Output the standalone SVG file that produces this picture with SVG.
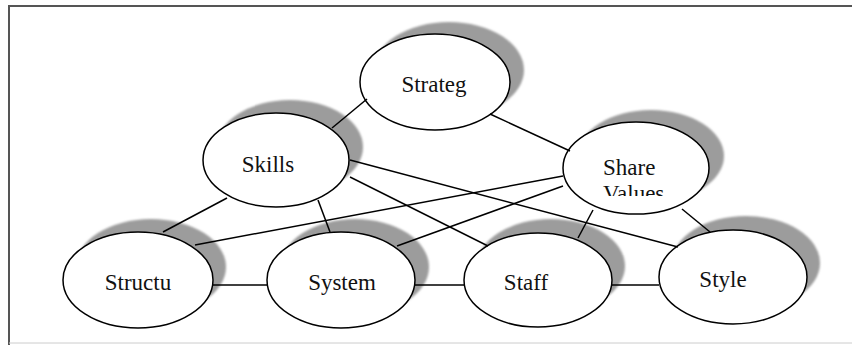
<svg xmlns="http://www.w3.org/2000/svg" width="852" height="345" viewBox="0 0 852 345">
<style>
.sh{fill:#9c9c9c;filter:url(#blur)}
.el{fill:#fff;stroke:#000;stroke-width:1.5}
.lb{font-family:"Liberation Serif","Times New Roman",serif;font-size:23px;fill:#111}
.cn line{stroke:#000;stroke-width:1.5}
</style>
<defs>
<filter id="blur" x="-10%" y="-10%" width="120%" height="120%"><feGaussianBlur stdDeviation="0.8"/></filter>
<clipPath id="svclip"><rect x="560" y="120" width="150" height="76"/></clipPath>
</defs>
<rect x="0" y="0" width="852" height="345" fill="#fff"/>
<g id="frame">
<line x1="8" y1="6" x2="852" y2="6" stroke="#555" stroke-width="2"/>
<line x1="9" y1="5" x2="9" y2="345" stroke="#555" stroke-width="2"/>
<line x1="9" y1="343" x2="852" y2="343" stroke="#ccc" stroke-width="1"/>
</g>
<g id="node-strategy">
<ellipse class="sh" cx="449" cy="70" rx="75" ry="48"/>
<ellipse class="el" cx="435" cy="82" rx="75" ry="48"/>
<text class="lb" x="434" y="92" text-anchor="middle">Strateg</text>
</g>
<g id="node-skills">
<ellipse class="sh" cx="290" cy="147" rx="73" ry="47"/>
<ellipse class="el" cx="276" cy="160" rx="73" ry="47"/>
<text class="lb" x="268" y="172" text-anchor="middle">Skills</text>
</g>
<g id="node-shared-values">
<ellipse class="sh" cx="651" cy="156" rx="73" ry="46"/>
<ellipse class="el" cx="636" cy="168" rx="73" ry="46"/>
<text class="lb" x="603" y="175">Share</text>
<text class="lb" x="603" y="201" clip-path="url(#svclip)">Values</text>
</g>
<g id="node-structure">
<ellipse class="sh" cx="151" cy="267" rx="75" ry="48"/>
<ellipse class="el" cx="138" cy="280" rx="75" ry="48"/>
<text class="lb" x="138" y="290" text-anchor="middle">Structu</text>
</g>
<g id="node-system">
<ellipse class="sh" cx="355" cy="267" rx="74" ry="48"/>
<ellipse class="el" cx="341" cy="280" rx="74" ry="48"/>
<text class="lb" x="342" y="290" text-anchor="middle">System</text>
</g>
<g id="node-staff">
<ellipse class="sh" cx="551" cy="266" rx="74" ry="47"/>
<ellipse class="el" cx="538" cy="280" rx="74" ry="47"/>
<text class="lb" x="526" y="290" text-anchor="middle">Staff</text>
</g>
<g id="node-style">
<ellipse class="sh" cx="746" cy="263" rx="74" ry="47"/>
<ellipse class="el" cx="733" cy="277" rx="74" ry="47"/>
<text class="lb" x="723" y="287" text-anchor="middle">Style</text>
</g>
<g id="connectors" class="cn">
<line x1="332" y1="128" x2="367" y2="99"/>
<line x1="490" y1="114" x2="570" y2="151"/>
<line x1="350" y1="160" x2="678" y2="247"/>
<line x1="350" y1="177" x2="488" y2="246"/>
<line x1="318" y1="200" x2="330" y2="232"/>
<line x1="227" y1="198" x2="163" y2="232"/>
<line x1="563" y1="176" x2="195" y2="245"/>
<line x1="563" y1="186" x2="397" y2="246"/>
<line x1="593" y1="210" x2="578" y2="238"/>
<line x1="682" y1="209" x2="710" y2="232"/>
<line x1="213" y1="285" x2="268" y2="285"/>
<line x1="415" y1="285" x2="464" y2="285"/>
<line x1="612" y1="285" x2="659" y2="285"/>
</g>
</svg>
